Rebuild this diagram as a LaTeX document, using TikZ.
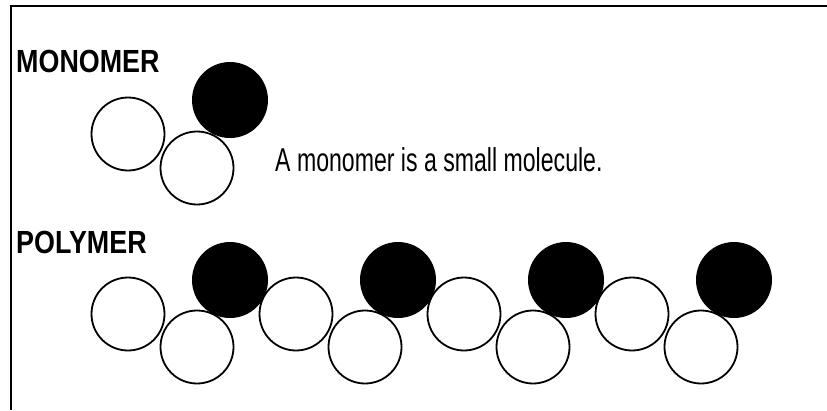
\documentclass[tikz,border=0pt]{standalone}
\usepackage{fontspec}
\newfontfamily\condfont[FakeStretch=0.7]{Liberation Sans}
\newfontfamily\condbold[FakeStretch=0.84]{Liberation Sans Bold}
\usetikzlibrary{positioning}

\begin{document}
\begin{tikzpicture}[x=1pt,y=-1pt,
    white bead/.style={circle,draw,line width=1.8pt,minimum size=73pt,inner sep=0pt},
    black bead/.style={circle,fill=black,minimum size=76pt,inner sep=0pt},
    title/.style={anchor=base west,inner sep=0pt,font=\condbold\fontsize{32}{35}\selectfont},
    caption/.style={anchor=base west,inner sep=0pt,font=\condfont\fontsize{33}{36}\selectfont}]
    \useasboundingbox (0,0) rectangle (827,410);
    % frame
    \draw[line width=2pt] (11,410) -- (11,6) -- (827,6);

    % monomer
    \node[title] (monolabel) at (16,72) {MONOMER};
    \node[white bead] (m1) at (128,134) {};
    \node[white bead] (m2) at (197,168) {};
    \node[black bead] (m3) at (230,100) {};
    \node[caption] (monotext) at (275,171) {A monomer is a small molecule.};

    % polymer
    \node[title] (polylabel) at (16,253) {POLYMER};
    \foreach \i in {0,...,3} {
      \node[white bead] (p1\i) at (128+168*\i,314) {};
      \node[white bead] (p2\i) at (197+168*\i,347) {};
    }
    \foreach \i in {0,...,3}
      \node[black bead] (p3\i) at (230+168*\i,280) {};
\end{tikzpicture}
\end{document}
